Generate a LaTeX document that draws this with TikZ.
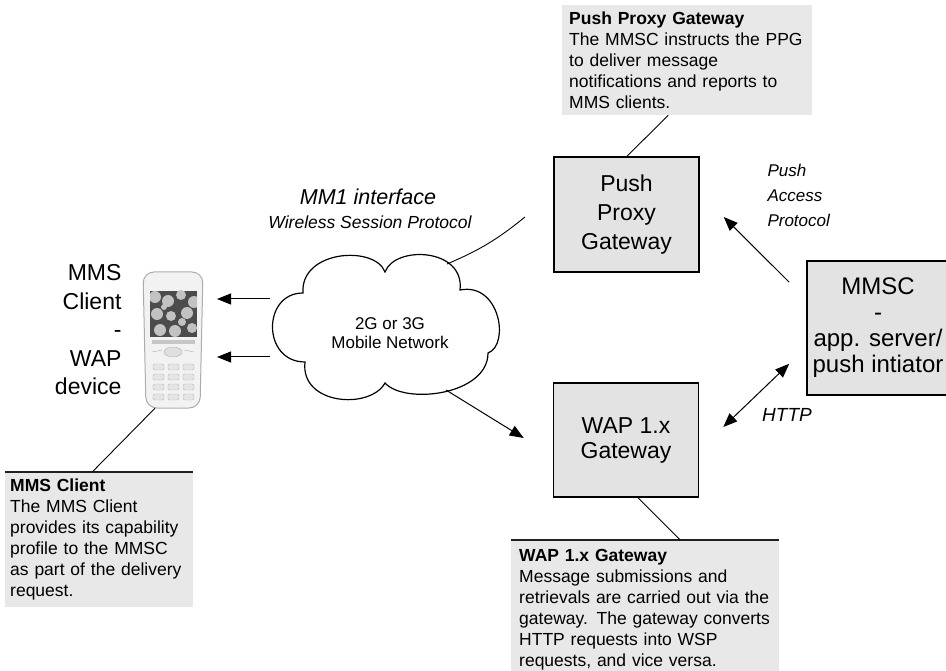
\documentclass[tikz,border=0pt]{standalone}
\usepackage{fontspec}
\setmainfont{Liberation Sans}
\usetikzlibrary{arrows.meta}

\tikzset{
  gwbox/.style={draw=black,line width=1.6pt,fill=gray!22,align=center,
    font=\fontsize{23}{29}\selectfont},
  note/.style={fill=gray!18,anchor=north west,align=left,inner ysep=4pt,
    font=\fontsize{17.5}{21}\selectfont},
  arr/.style={-{Triangle[length=14pt,width=11pt]},line width=1pt},
  lead/.style={line width=0.9pt},
  edge/.style={line width=1.3pt,gray!25!black},
}

\begin{document}
\begin{tikzpicture}[x=1pt,y=-1pt]
\useasboundingbox (0,0) rectangle (946,671);

% gateways and the server
\node[gwbox,minimum width=145pt,minimum height=115pt] (ppg) at (626.5,214.5) {Push\\Proxy\\Gateway};
\node[gwbox,minimum width=145pt,minimum height=114pt,font=\fontsize{23}{25}\selectfont] (wap) at (626,440) {WAP 1.x\\Gateway};
\node[gwbox,minimum width=142pt,minimum height=134pt,font=\fontsize{24}{26}\selectfont] (mmsc) at (878,328) {MMSC\\-\\app. server/\\push intiator};

% the mobile network, six puffs
\draw[line width=1.2pt,fill=white]
  (305,362) .. controls (262,362) and (262,293) .. (303,293)
  .. controls (300,250) and (375,245) .. (385,272)
  .. controls (395,245) and (465,248) .. (460,290)
  .. controls (500,282) and (510,345) .. (488,353)
  .. controls (488,395) and (405,405) .. (385,383)
  .. controls (370,410) and (300,405) .. (305,362) -- cycle;
\node[align=center,font=\fontsize{17}{18.5}\selectfont] (net) at (390,333) {2G or 3G\\Mobile Network};
\coordinate (netw1) at (270,299);
\coordinate (netw2) at (270,357);
\coordinate (netse) at (446,390);
\coordinate (netne) at (447,264);

% handset
\node[minimum width=60pt,minimum height=136pt] (phone) at (173,340) {};
\draw[gray!65,fill=gray!10,line width=1pt,rounded corners=11pt] (143,272) -- (203,272) -- (200,408) -- (146,408) -- cycle;
\fill[gray!60!black] (150,291) rectangle (197,337);
\begin{scope}
  \clip (150,291) rectangle (197,337);
  \foreach \x/\y/\r in {155/297/6,168/301/6,181/295/5,194/302/6,157/314/6,171/316/5,187/313/6,
    160/330/6,175/331/6,192/328/5,164/307/3,182/322/4}
    \fill[gray!48] (\x,\y) circle (\r);
\end{scope}
\fill[gray!45] (152,340) rectangle (195,344);
\draw[gray!60,fill=gray!25] (173,352) ellipse (9pt and 5pt);
\draw[gray!60] (152,352) -- (162,350) (184,350) -- (194,352);
\foreach \r in {0,...,3}
  \foreach \c in {0,1,2}
    \draw[gray!55,fill=gray!20,rounded corners=1.5pt] (153+\c*15,364+\r*10) rectangle +(11,6);

% annotations
\node[note,text width=236pt,inner xsep=7pt,minimum height=110pt] (ppgnote) at (562,5)
  {\textbf{Push Proxy Gateway}\\The MMSC instructs the PPG\\to deliver message\\notifications and reports to\\MMS clients.};
\node[note,text width=178pt,inner xsep=5pt,minimum height=135pt] (mmsnote) at (5,472)
  {\textbf{MMS Client}\\The MMS Client\\provides its capability\\profile to the MMSC\\as part of the delivery\\request.};
\node[note,text width=252pt,inner xsep=8pt,minimum height=140pt] (wapnote) at (511,540)
  {\textbf{WAP 1.x Gateway}\\Message submissions and\\retrievals are carried out via the\\gateway. The gateway converts\\HTTP requests into WSP\\requests, and vice versa.};
\draw[edge] (mmsnote.north west) -- (mmsnote.north east);
\draw[edge] (wapnote.north west) -- (wapnote.north east);

% labels
\node[anchor=east,align=right,font=\fontsize{23}{28.5}\selectfont] (client) at (125,330) {MMS\\Client\\-\\WAP\\device};
\node[font=\itshape\fontsize{21.5}{24}\selectfont] (mm1) at (368,197) {MM1 interface};
\node[font=\itshape\fontsize{17.5}{20}\selectfont] (wsp) at (370,222) {Wireless Session Protocol};
\node[anchor=west,align=left,font=\itshape\fontsize{17}{25}\selectfont] (pap) at (764,195) {Push\\Access\\Protocol};
\node[font=\itshape\fontsize{19}{21}\selectfont] (http) at (787,415) {HTTP};

% connectors
\coordinate (rx1) at (217,299);
\coordinate (rx2) at (217,357);
\coordinate (mm1end) at (525,217);
\draw[arr] (netw1) -- (rx1);
\draw[arr] (netw2) -- (rx2);
\draw[arr] (netse) -- ([shift={(-29pt,2pt)}]wap.west);
\draw[lead] (netne) to[bend right=8] (mm1end);
\draw[arr] ([shift={(-17pt,-22pt)}]mmsc.north west) -- ([shift={(24pt,-2.5pt)}]ppg.east);
\draw[arr,{Triangle[length=14pt,width=11pt]}-{Triangle[length=14pt,width=11pt]}]
  ([shift={(24pt,13pt)}]wap.east) -- ([shift={(-17pt,32pt)}]mmsc.south west);
\draw[lead] ([xshift=-19pt]ppgnote.south) -- ([xshift=0.5pt]ppg.north);
\draw[lead] ([xshift=12pt]wap.south) -- ([xshift=35pt]wapnote.north);
\draw[lead] ([xshift=-18pt]phone.south) -- ([xshift=-7pt]mmsnote.north);
\end{tikzpicture}
\end{document}
